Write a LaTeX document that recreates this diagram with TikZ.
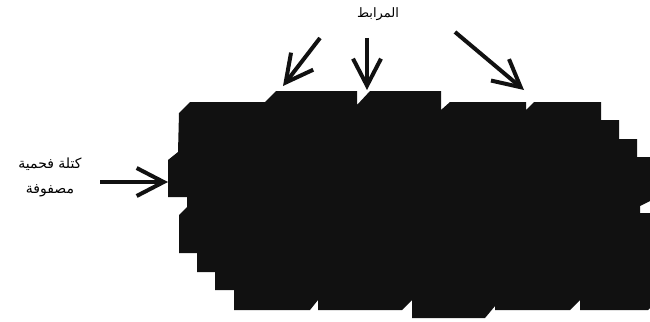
\documentclass[tikz,border=0pt]{standalone}
\usepackage{fontspec}
\usepackage{xcolor}
\usetikzlibrary{arrows.meta,positioning}
\newfontfamily\arabicfont[Script=Arabic]{DejaVu Sans}
\TeXXeTstate=1
\definecolor{coalblack}{RGB}{17,17,17}

\begin{document}
\begin{tikzpicture}[x=1pt, y=-1pt, every node/.style={font=\arabicfont\fontsize{13}{25}\selectfont}]
  \tikzset{
    pointer/.style={draw=coalblack, line width=4pt, -{Straight Barb[length=27pt, width=28pt]}},
    arlabel/.style={inner sep=0pt, align=center}
  }
  \useasboundingbox (0,0) rectangle (650,321);

  % carbon matrix block
  \fill[coalblack] (179,113) -- (190,102) -- (265,102) -- (276,91) -- (357,91) -- (357,105)
    -- (370,91) -- (441,91) -- (441,110) -- (450,102) -- (526,102) -- (526,110) -- (534,102)
    -- (601,102) -- (601,120) -- (619,120) -- (619,139) -- (637,139) -- (637,157) -- (650,157)
    -- (650,201) -- (640,206) -- (640,213) -- (650,213) -- (650,308) -- (648,310)
    -- (580,310) -- (580,300) -- (570,310) -- (495,310) -- (495,306) -- (485,318)
    -- (412,318) -- (412,300) -- (402,310) -- (318,310) -- (318,300) -- (310,310)
    -- (234,310) -- (234,290) -- (215,290) -- (215,272) -- (197,272) -- (197,253)
    -- (179,253) -- (179,215) -- (187,207) -- (187,197) -- (168,197) -- (168,160)
    -- (178,152) -- cycle;

  \node[arlabel, font=\arabicfont\fontsize{14}{25}\selectfont] (matrix) at (50,177)
    {\beginR كتلة فحمية\endR\\\beginR مصفوفة\endR};
  \node[arlabel] (binder) at (378,14) {\beginR المرابط\endR};

  \coordinate (mtail) at (100,182);
  \coordinate (mtip)  at (168,182);
  \coordinate (btailA) at (320,38);
  \coordinate (btipA)  at (283,86);
  \coordinate (btailB) at (367,38);
  \coordinate (btipB)  at (367,90);
  \coordinate (btailC) at (455,32);
  \coordinate (btipC)  at (524,90);

  \draw[pointer] (mtail) -- (mtip);
  \draw[pointer] (btailA) -- (btipA);
  \draw[pointer] (btailB) -- (btipB);
  \draw[pointer] (btailC) -- (btipC);
\end{tikzpicture}
\end{document}
